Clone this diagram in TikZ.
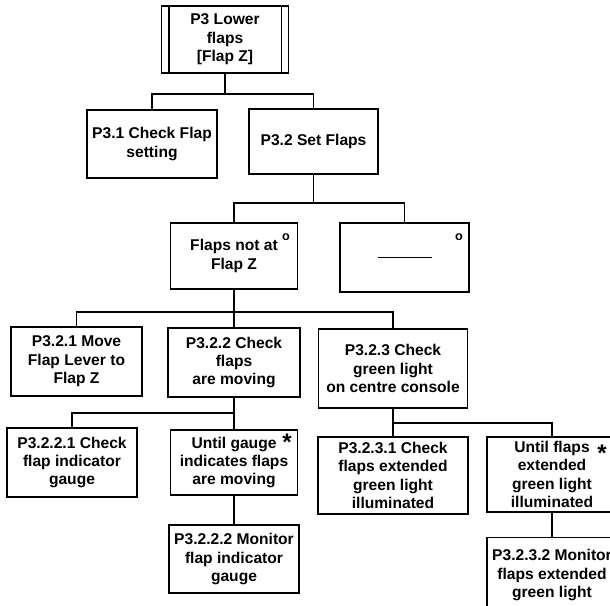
\documentclass[tikz,border=0pt]{standalone}
\usepackage{fontspec}
\setmainfont{Liberation Sans}
\usetikzlibrary{positioning}

\begin{document}
\begin{tikzpicture}[x=0.75pt, y=-0.75pt, line width=1.4pt]
% Definition of blocks:
\tikzset{%
  block/.style = {draw, rectangle, align=center, inner sep=2pt, font=\bfseries\fontsize{11.7}{13.8}\selectfont},
  flag/.style  = {inner sep=0pt, font=\bfseries\fontsize{9.5}{9.5}\selectfont}, % o
  star/.style  = {inner sep=0pt, font=\bfseries\fontsize{18}{18}\selectfont}, % *
  input/.style = {coordinate} % Junction
}
\useasboundingbox (0,0) rectangle (610,606);

\draw
	node [block, minimum width=95.25pt, minimum height=50.25pt] (P3) at (225,39.5) {P3 Lower\\flaps\\{[Flap Z]}}
	node [block, minimum width=97.5pt, minimum height=51pt] (P31) at (152,144) {P3.1 Check Flap\\setting}
	node [block, minimum width=96.75pt, minimum height=48.75pt] (P32) at (313.5,141.5) {P3.2 Set Flaps}
	node [input, below = 15pt of P3] (J1) {};

\draw ([xshift=6pt]P3.north west) -- ([xshift=6pt]P3.south west);
\draw ([xshift=-6pt]P3.north east) -- ([xshift=-6pt]P3.south east);

\draw (P3) -- (J1);
\draw (P31) |- (J1) -| (P32);

\draw
	node [block, minimum width=95.25pt, minimum height=49.5pt] (NotAt) at (234,256) {Flaps not at\\Flap Z}
	node [block, minimum width=96.75pt, minimum height=51.75pt] (Other) at (404.5,257.5) {\rule{40.5pt}{1.4pt}}
	node [input, below = 21pt of P32] (J2) {};

\node [flag] (NotAtO) at ([xshift=-9.4pt, yshift=-11.25pt]NotAt.north east) {o};
\node [flag] (OtherO) at ([xshift=-8.25pt, yshift=-11.25pt]Other.north east) {o};

\draw (P32) -- (J2);
\draw (NotAt) |- (J2) -| (Other);

\draw
	node [block, minimum width=98.25pt, minimum height=51.75pt] (P321) at (76.5,361.5) {P3.2.1 Move\\Flap Lever to\\Flap Z}
	node [block, minimum width=99pt, minimum height=51.75pt] (P322) at (234,362.5) {P3.2.2 Check\\flaps\\are moving}
	node [block, minimum width=111.75pt, minimum height=59.25pt] (P323) at (393,368.5) {P3.2.3 Check\\green light\\on centre console}
	node [input, below = 16.5pt of NotAt] (J3) {};

\draw (NotAt) -- (J3);
\draw (J3) -- (P322);
\draw (P321) |- (J3) -| (P323);

\draw
	node [block, minimum width=97.5pt, minimum height=51.75pt] (P3221) at (72,462.5) {P3.2.2.1 Check\\flap indicator\\gauge}
	node [block, minimum width=95.25pt, minimum height=48.75pt] (Gauge) at (234,462.5) {Until gauge\\indicates flaps\\are moving}
	node [block, minimum width=97.5pt, minimum height=51pt] (P3222) at (234,559) {P3.2.2.2 Monitor\\flap indicator\\gauge}
	node [input, below = 11.25pt of P322] (J4) {};

\node [star] (GaugeS) at ([xshift=-8.6pt, yshift=-9.75pt]Gauge.north east) {*};

\draw (P322) -- (J4);
\draw (P3221) |- (J4) -- (Gauge);
\draw (Gauge) -- (P3222);

\draw
	node [block, minimum width=112.5pt, minimum height=57.75pt] (P3231) at (393,475.5) {P3.2.3.1 Check\\flaps extended\\green light\\illuminated}
	node [block, minimum width=97.5pt, minimum height=56.25pt] (Lit) at (552,474.5) {Until flaps\\extended\\green light\\illuminated}
	node [block, minimum width=97.5pt, minimum height=56.25pt] (P3232) at (552,575) {P3.2.3.2 Monitor\\flaps extended\\green light}
	node [input, below = 10.5pt of P323] (J5) {};

\node [star] (LitS) at ([xshift=-12pt, yshift=-12.75pt]Lit.north east) {*};

\draw (P323) -- (J5);
\draw (J5) -- (P3231);
\draw (J5) -| (Lit);
\draw (Lit) -- (P3232);

\end{tikzpicture}
\end{document}
